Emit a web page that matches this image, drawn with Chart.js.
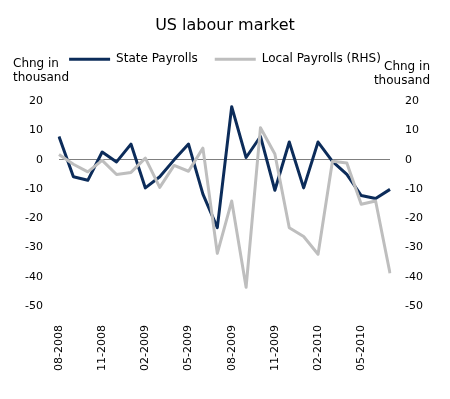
<!DOCTYPE html>
<html>
<head>
<meta charset="utf-8">
<script src="https://cdn.jsdelivr.net/npm/chart.js@4/dist/chart.umd.min.js"></script>
<style>
  html, body { margin: 0; padding: 0; background: #fff; }
  #wrap { position: relative; width: 450px; height: 399px; }
  .axt { position: absolute; font-family: 'DejaVu Sans', sans-serif; font-size: 12px; line-height: 14px; color: #000; }
  #lt { left: 13px; top: 56px; text-align: left; }
  #rt { right: 20px; top: 59px; text-align: right; }
</style>
</head>
<body>
<div id="wrap">
  <canvas id="c" width="450" height="399"></canvas>
  <div class="axt" id="lt">Chng in<br>thousand</div>
  <div class="axt" id="rt">Chng in<br>thousand</div>
</div>
<script>
const months = ['08-2008','09-2008','10-2008','11-2008','12-2008','01-2009','02-2009','03-2009','04-2009','05-2009','06-2009','07-2009',
                '08-2009','09-2009','10-2009','11-2009','12-2009','01-2010','02-2010','03-2010','04-2010','05-2010','06-2010','07-2010'];
const statePayrolls = [8.0, -5.8, -7.0, 2.7, -0.7, 5.4, -9.6, -5.8, 0.0, 5.4, -11.7, -23.2, 18.2, 0.8, 8.0, -10.4, 6.1, -9.6, 6.1, -0.5, -5.0, -12.2, -13.2, -10.1];
const localPayrolls = [1.8, -1.5, -4.1, -0.2, -5.0, -4.3, 0.6, -9.4, -1.9, -3.9, 4.0, -32.0, -14.1, -43.6, 11.0, 2.0, -23.2, -26.2, -32.3, -0.5, -1.1, -15.2, -14.1, -38.8];
const yMin = -50, yMax = 20, yStep = 10;

Chart.defaults.font.family = "'DejaVu Sans', sans-serif";
Chart.defaults.font.size = 11;
Chart.defaults.color = '#000';

const navy = '#0C2C5A';
const grey = '#BEBEBE';

new Chart(document.getElementById('c'), {
  type: 'line',
  data: {
    labels: months,
    datasets: [
      { label: 'State Payrolls', data: statePayrolls, borderColor: navy, backgroundColor: navy, borderWidth: 3,
        pointRadius: 0, tension: 0, borderJoinStyle: 'round', yAxisID: 'y', order: 1 },
      { label: 'Local Payrolls (RHS)', data: localPayrolls, borderColor: grey, backgroundColor: grey, borderWidth: 3,
        pointRadius: 0, tension: 0, borderJoinStyle: 'round', yAxisID: 'y1', order: 0 }
    ]
  },
  options: {
    responsive: false,
    devicePixelRatio: 1,
    animation: false,
    layout: { padding: { top: 0, left: 0, right: 0, bottom: 0 } },
    plugins: {
      tooltip: { enabled: false },
      title: { display: true, text: 'US labour market', color: '#000',
               font: { size: 16, weight: 'normal' }, padding: { top: 16, bottom: 1 } },
      subtitle: { display: true, text: '', weight: 500, font: { size: 1 }, padding: { top: 25, bottom: 0 } },
      legend: {
        display: true,
        labels: {
          boxWidth: 41, boxHeight: 3, padding: 17, color: '#000', font: { size: 12 },
          sort: (a, b) => a.datasetIndex - b.datasetIndex,
          generateLabels: (chart) => Chart.defaults.plugins.legend.labels.generateLabels(chart)
            .map(l => Object.assign(l, { fillStyle: l.strokeStyle, lineWidth: 0 }))
        }
      }
    },
    scales: {
      x: {
        grid: { display: false, drawTicks: false },
        border: { display: false },
        ticks: { autoSkip: false, minRotation: 90, maxRotation: 90, padding: 19,
                 callback: (v, i) => (i % 3 === 0 ? months[i] : '') },
        afterFit: s => { s.height = 93; }
      },
      y: {
        position: 'left', min: yMin, max: yMax,
        grid: { drawTicks: false, color: c => (c.tick && c.tick.value === 0 ? '#7F7F7F' : 'rgba(0,0,0,0)'), lineWidth: 1 },
        border: { display: false },
        ticks: { stepSize: yStep, padding: 16 },
        afterFit: s => { s.width = 59; }
      },
      y1: {
        position: 'right', min: yMin, max: yMax,
        grid: { display: false, drawTicks: false },
        border: { display: false },
        ticks: { stepSize: yStep, padding: 15 },
        afterFit: s => { s.width = 60; }
      }
    }
  }
});
</script>
</body>
</html>
